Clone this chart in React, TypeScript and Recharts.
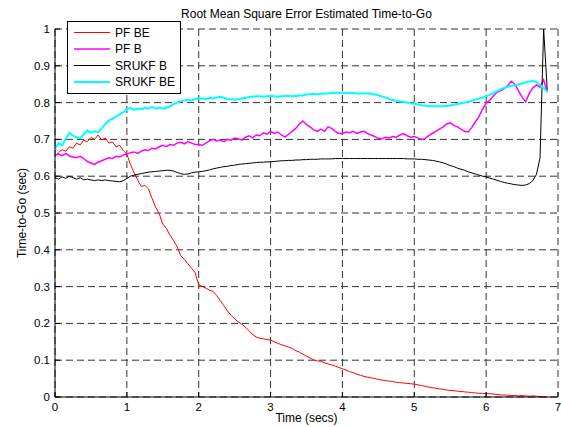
import React from 'react';
import { LineChart, Line, XAxis, YAxis, CartesianGrid, Legend } from 'recharts';

// Time-to-go RMSE traces, sampled every 0.05 s from t = 0 to 6.85 s.
const SAMPLE_STEP = 0.05;

const pfBe = [
  0.655, 0.665, 0.672, 0.668, 0.680, 0.676, 0.690, 0.685, 0.698, 0.694,
  0.705, 0.700, 0.712, 0.698, 0.704, 0.690, 0.693, 0.680, 0.684, 0.670,
  0.660, 0.632, 0.610, 0.590, 0.572, 0.575, 0.566, 0.540, 0.516, 0.498,
  0.470, 0.458, 0.440, 0.425, 0.408, 0.384, 0.374, 0.362, 0.350, 0.338,
  0.305, 0.300, 0.296, 0.290, 0.287, 0.276, 0.262, 0.248, 0.234, 0.222,
  0.212, 0.204, 0.198, 0.190, 0.180, 0.170, 0.163, 0.160, 0.158, 0.156,
  0.155, 0.150, 0.146, 0.142, 0.139, 0.136, 0.132, 0.126, 0.122, 0.116,
  0.111, 0.106, 0.101, 0.098, 0.097, 0.093, 0.090, 0.087, 0.084, 0.080,
  0.077, 0.073, 0.069, 0.066, 0.062, 0.059, 0.056, 0.054, 0.052, 0.050,
  0.048, 0.046, 0.045, 0.043, 0.042, 0.040, 0.039, 0.038, 0.037, 0.036,
  0.035, 0.033, 0.031, 0.029, 0.027, 0.025, 0.024, 0.022, 0.021, 0.019,
  0.018, 0.017, 0.016, 0.015, 0.014, 0.013, 0.012, 0.011, 0.010, 0.010,
  0.009, 0.009, 0.008, 0.007, 0.006, 0.005, 0.005, 0.004, 0.004, 0.003,
  0.004, 0.003, 0.002, 0.003, 0.002, 0.001, 0.001, 0.000,
];

const pfB = [
  0.657, 0.660, 0.656, 0.662, 0.655, 0.652, 0.650, 0.654, 0.648, 0.640,
  0.636, 0.632, 0.638, 0.642, 0.646, 0.650, 0.648, 0.654, 0.652, 0.658,
  0.660, 0.664, 0.666, 0.662, 0.668, 0.672, 0.670, 0.676, 0.674, 0.680,
  0.684, 0.680, 0.686, 0.684, 0.690, 0.692, 0.688, 0.694, 0.690, 0.686,
  0.686, 0.684, 0.690, 0.696, 0.700, 0.696, 0.698, 0.694, 0.700, 0.698,
  0.704, 0.702, 0.698, 0.706, 0.710, 0.704, 0.712, 0.710, 0.718, 0.714,
  0.722, 0.716, 0.720, 0.712, 0.706, 0.714, 0.722, 0.730, 0.742, 0.750,
  0.740, 0.734, 0.726, 0.722, 0.728, 0.722, 0.734, 0.730, 0.722, 0.716,
  0.716, 0.720, 0.718, 0.722, 0.716, 0.720, 0.722, 0.716, 0.712, 0.708,
  0.703, 0.702, 0.706, 0.704, 0.708, 0.706, 0.712, 0.716, 0.710, 0.706,
  0.708, 0.704, 0.700, 0.702, 0.710, 0.716, 0.722, 0.728, 0.734, 0.742,
  0.745, 0.738, 0.734, 0.728, 0.722, 0.720, 0.732, 0.748, 0.762, 0.782,
  0.798, 0.806, 0.818, 0.828, 0.832, 0.838, 0.846, 0.858, 0.850, 0.832,
  0.815, 0.802, 0.825, 0.840, 0.848, 0.842, 0.862, 0.828,
];

const srukfB = [
  0.596, 0.592, 0.598, 0.594, 0.600, 0.596, 0.592, 0.596, 0.590, 0.592,
  0.590, 0.588, 0.590, 0.588, 0.590, 0.588, 0.587, 0.586, 0.585, 0.588,
  0.594, 0.600, 0.603, 0.605, 0.607, 0.609, 0.611, 0.612, 0.613, 0.614,
  0.615, 0.616, 0.616, 0.614, 0.610, 0.607, 0.605, 0.606, 0.609, 0.611,
  0.612, 0.613, 0.615, 0.617, 0.620, 0.622, 0.624, 0.626, 0.627, 0.629,
  0.630, 0.632, 0.633, 0.634, 0.635, 0.636, 0.637, 0.638, 0.638, 0.639,
  0.639, 0.640, 0.641, 0.642, 0.642, 0.643, 0.643, 0.644, 0.644, 0.645,
  0.645, 0.646, 0.646, 0.646, 0.647, 0.647, 0.647, 0.647, 0.648, 0.648,
  0.648, 0.648, 0.648, 0.648, 0.648, 0.648, 0.648, 0.648, 0.648, 0.648,
  0.648, 0.648, 0.648, 0.648, 0.648, 0.648, 0.648, 0.648, 0.647, 0.647,
  0.647, 0.646, 0.646, 0.645, 0.644, 0.643, 0.641, 0.639, 0.636, 0.633,
  0.629, 0.626, 0.622, 0.619, 0.616, 0.612, 0.609, 0.606, 0.603, 0.600,
  0.598, 0.595, 0.592, 0.589, 0.586, 0.583, 0.581, 0.579, 0.577, 0.576,
  0.575, 0.576, 0.580, 0.588, 0.605, 0.650, 1.000, 0.835,
];

const srukfBe = [
  0.675, 0.690, 0.684, 0.702, 0.718, 0.710, 0.706, 0.703, 0.714, 0.724,
  0.718, 0.722, 0.720, 0.730, 0.742, 0.752, 0.756, 0.762, 0.768, 0.774,
  0.782, 0.786, 0.780, 0.784, 0.782, 0.786, 0.784, 0.788, 0.784, 0.786,
  0.784, 0.786, 0.790, 0.796, 0.800, 0.804, 0.806, 0.808, 0.806, 0.810,
  0.812, 0.811, 0.810, 0.813, 0.811, 0.814, 0.816, 0.813, 0.810, 0.809,
  0.808, 0.809, 0.811, 0.813, 0.815, 0.816, 0.817, 0.817, 0.816, 0.817,
  0.818, 0.817, 0.816, 0.817, 0.818, 0.818, 0.817, 0.818, 0.819, 0.820,
  0.822, 0.823, 0.824, 0.823, 0.824, 0.825, 0.825, 0.826, 0.826, 0.827,
  0.827, 0.827, 0.826, 0.826, 0.825, 0.825, 0.825, 0.825, 0.824, 0.822,
  0.820, 0.817, 0.814, 0.810, 0.807, 0.805, 0.803, 0.802, 0.800, 0.798,
  0.797, 0.795, 0.793, 0.792, 0.791, 0.790, 0.790, 0.790, 0.790, 0.791,
  0.792, 0.794, 0.796, 0.798, 0.800, 0.802, 0.805, 0.808, 0.811, 0.814,
  0.817, 0.821, 0.826, 0.831, 0.836, 0.840, 0.843, 0.845, 0.847, 0.849,
  0.852, 0.855, 0.857, 0.859, 0.856, 0.848, 0.840, 0.829,
];

const timeTicks = [0, 1, 2, 3, 4, 5, 6, 7];
const valueTicks = [0, 0.1, 0.2, 0.3, 0.4, 0.5, 0.6, 0.7, 0.8, 0.9, 1];

const series = [
  { key: 'pfBe', name: 'PF BE', color: '#ff0000', width: 1, values: pfBe },
  { key: 'pfB', name: 'PF B', color: '#ff00ff', width: 1.5, values: pfB },
  { key: 'srukfB', name: 'SRUKF B', color: '#000000', width: 1, values: srukfB },
  { key: 'srukfBe', name: 'SRUKF BE', color: '#00ffff', width: 2, values: srukfBe },
];

const rows = pfBe.map((_, i) => {
  const row: Record<string, number> = { t: Number((i * SAMPLE_STEP).toFixed(2)) };
  series.forEach((s) => {
    row[s.key] = s.values[i];
  });
  return row;
});

const FONT = '"Liberation Sans", Arial, Helvetica, sans-serif';
const TEXT_SIZE = 12;
const TICK_TEXT_SIZE = 11.5;
const TICK_GAP = 5;
const TICK_LEN = 5;

const fmt = (v: number) => String(Math.round(v * 10) / 10);

// MATLAB-style ticks pointing into the axes.
const YTick = (props: any) => {
  const { x, y, payload } = props;
  const axisX = x + TICK_GAP;
  return (
    <g>
      <line x1={axisX} y1={y} x2={axisX + TICK_LEN} y2={y} stroke="#000" strokeWidth={1} />
      <text x={x} y={y} dy={4} textAnchor="end" fontSize={TICK_TEXT_SIZE} fontFamily={FONT} fill="#000">
        {fmt(payload.value)}
      </text>
    </g>
  );
};

const XTick = (props: any) => {
  const { x, y, payload } = props;
  const axisY = y - TICK_GAP;
  return (
    <g>
      <line x1={x} y1={axisY} x2={x} y2={axisY - TICK_LEN} stroke="#000" strokeWidth={1} />
      <text x={x} y={y} dy={8.5} textAnchor="middle" fontSize={TICK_TEXT_SIZE} fontFamily={FONT} fill="#000">
        {fmt(payload.value)}
      </text>
    </g>
  );
};

const LegendBox = () => (
  <svg width={114} height={73} style={{ display: 'block' }}>
    <rect x={0.5} y={0.5} width={113} height={72} fill="#fff" stroke="#000" strokeWidth={1} />
    {series.map((s, i) => {
      const cy = 11.5 + i * 16.5;
      return (
        <g key={s.key}>
          <line x1={7} y1={cy} x2={43} y2={cy} stroke={s.color} strokeWidth={s.width} />
          <text x={48} y={cy + 4} fontSize={TEXT_SIZE} fontFamily={FONT} fill="#000">
            {s.name}
          </text>
        </g>
      );
    })}
  </svg>
);

export default function App() {
  return (
    <div style={{ position: 'absolute', left: 0, top: 0, width: 561, height: 427, background: '#fff' }}>
      <div
        style={{
          position: 'absolute',
          left: 55,
          top: 7,
          width: 503,
          textAlign: 'center',
          fontFamily: FONT,
          fontSize: TEXT_SIZE,
          lineHeight: '14px',
          color: '#000',
        }}
      >
        Root Mean Square Error Estimated Time-to-Go
      </div>
      <LineChart width={561} height={427} data={rows} margin={{ top: 29, right: 3, bottom: 0, left: 0 }}>
        <CartesianGrid stroke="#333" strokeWidth={1} strokeDasharray="7 4" />
        <XAxis
          dataKey="t"
          type="number"
          domain={[0, 7]}
          ticks={timeTicks}
          interval={0}
          height={30}
          tickSize={0}
          tickMargin={TICK_GAP}
          tick={<XTick />}
          axisLine={{ stroke: '#000', strokeWidth: 1 }}
          label={{
            content: (p: any) => {
              const vb = p.viewBox;
              return (
                <text x={vb.x + vb.width / 2} y={vb.y + 24.5} textAnchor="middle" fontSize={TEXT_SIZE} fontFamily={FONT} fill="#000">
                  Time (secs)
                </text>
              );
            },
          }}
        />
        <YAxis
          type="number"
          domain={[0, 1]}
          ticks={valueTicks}
          interval={0}
          width={55}
          tickSize={0}
          tickMargin={TICK_GAP}
          tick={<YTick />}
          axisLine={{ stroke: '#000', strokeWidth: 1 }}
          label={{
            content: (p: any) => {
              const vb = p.viewBox;
              const cx = vb.x + 26;
              const cy = vb.y + vb.height / 2;
              return (
                <text x={cx} y={cy} transform={`rotate(-90 ${cx} ${cy})`} textAnchor="middle" fontSize={TEXT_SIZE} fontFamily={FONT} fill="#000">
                  Time-to-Go (sec)
                </text>
              );
            },
          }}
        />
        <Legend
          layout="horizontal"
          verticalAlign="middle"
          align="center"
          width={114}
          height={73}
          wrapperStyle={{ left: 67, top: 21, width: 114, height: 73 }}
          content={() => <LegendBox />}
        />
        {series.map((s) => (
          <Line
            key={s.key}
            dataKey={s.key}
            name={s.name}
            type="linear"
            stroke={s.color}
            strokeWidth={s.width}
            dot={false}
            activeDot={false}
            isAnimationActive={false}
          />
        ))}
      </LineChart>
    </div>
  );
}
